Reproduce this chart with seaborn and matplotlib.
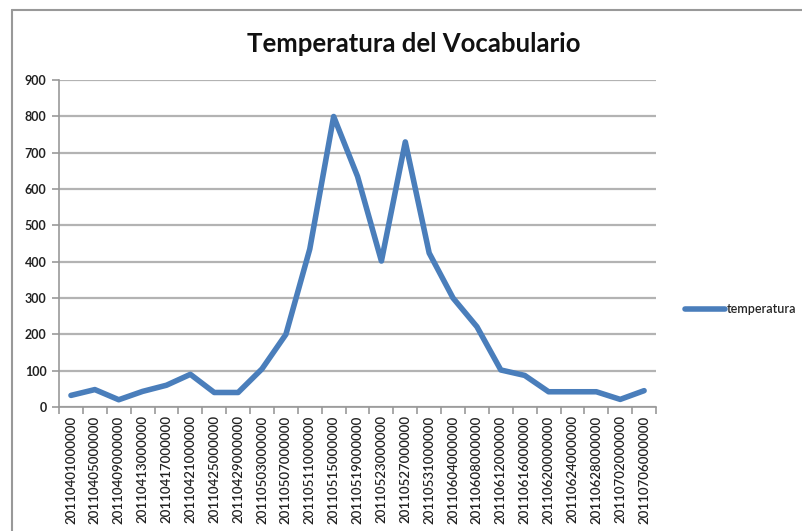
import matplotlib
matplotlib.use("Agg")
import matplotlib.pyplot as plt
from matplotlib.lines import Line2D
import seaborn as sns
import pandas as pd

fechas = ["20110401000000", "20110405000000", "20110409000000", "20110413000000",
          "20110417000000", "20110421000000", "20110425000000", "20110429000000",
          "20110503000000", "20110507000000", "20110511000000", "20110515000000",
          "20110519000000", "20110523000000", "20110527000000", "20110531000000",
          "20110604000000", "20110608000000", "20110612000000", "20110616000000",
          "20110620000000", "20110624000000", "20110628000000", "20110702000000",
          "20110706000000"]
temperatura = [32, 48, 20, 43, 60, 90, 40, 40, 105, 200, 435, 800, 635, 402, 730,
               424, 300, 221, 102, 87, 42, 42, 42, 21, 45]
y_ticks = [0, 100, 200, 300, 400, 500, 600, 700, 800, 900]

sns.set_theme(style="white")
plt.rcParams['font.family'] = ['Lato', 'DejaVu Sans']

df = pd.DataFrame({"fecha": fechas, "temperatura": temperatura})

fig = plt.figure(figsize=(8.03, 5.31), dpi=100)
ax = fig.add_axes([0.0735, 0.2335, 0.7435, 0.6155])

sns.lineplot(data=df, x="fecha", y="temperatura", sort=False, ax=ax,
             color="#4a7ebb", linewidth=4, label="temperatura")

ax.set_xlim(-0.5, len(fechas) - 0.5)
ax.set_ylim(0, 900)
ax.set_yticks(y_ticks)
ax.set_yticklabels([str(v) for v in y_ticks], fontsize=9, fontweight='bold', color='#222222')
ax.yaxis.grid(True, color="#b3b3b3", linewidth=1.6)
ax.xaxis.grid(False)
ax.set_xticks(range(len(fechas)))
ax.set_xticklabels(fechas, rotation=90, fontsize=9.5, fontweight='semibold', color='#222222')
ax.tick_params(axis='x', length=0, pad=6)
ax.set_xticks([i - 0.5 for i in range(len(fechas) + 1)], minor=True)
ax.tick_params(axis='x', which='minor', length=5, width=1.2, color='#999999', direction='out', bottom=True)
ax.tick_params(axis='y', length=5, width=1.2, color='#999999', direction='out', left=True, pad=4)
ax.set_xlabel("")
ax.set_ylabel("")
for s in ["top", "right"]:
    ax.spines[s].set_visible(False)
ax.spines["left"].set_color("#999999")
ax.spines["left"].set_linewidth(1.2)
ax.spines["bottom"].set_color("#999999")
ax.spines["bottom"].set_linewidth(1.2)

fig.text(0.515, 0.917, "Temperatura del Vocabulario", ha="center", va="center",
         fontsize=18.5, fontweight="bold", color="#111111")

leg = ax.legend(loc="center left", bbox_to_anchor=(1.03, 0.30), frameon=False,
                fontsize=9, handlelength=3.2, handletextpad=0.1)
for t in leg.get_texts():
    t.set_fontweight('semibold')

fig.add_artist(Line2D([12/803, 12/803], [0, 1 - 10/531], transform=fig.transFigure,
                      color="#999999", linewidth=1.5))
fig.add_artist(Line2D([12/803, 1.0], [1 - 10/531, 1 - 10/531], transform=fig.transFigure,
                      color="#999999", linewidth=1.5))

fig.savefig("out.png", dpi=100)
